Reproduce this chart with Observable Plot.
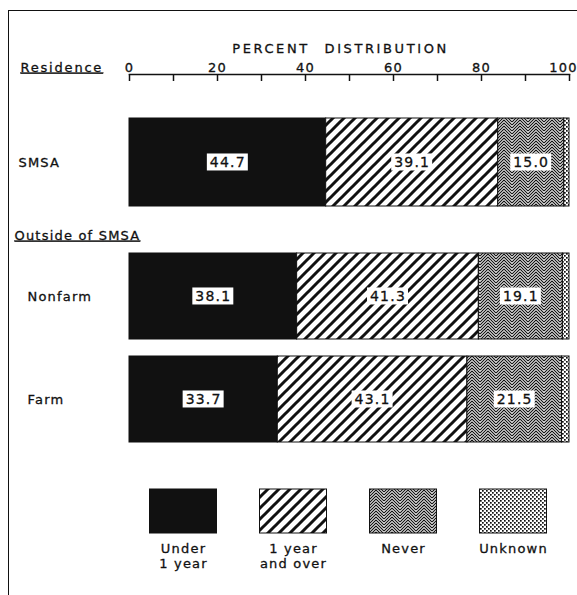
<!DOCTYPE html>
<html>
<head>
<meta charset="utf-8">
<script src="https://cdn.jsdelivr.net/npm/d3@7"></script>
<script src="https://cdn.jsdelivr.net/npm/@observablehq/plot@0.6"></script>
<style>
  body { margin: 0; background: #fff; }
  #wrap { position: relative; width: 577px; height: 595px; overflow: hidden; background: #fff; font-family: "DejaVu Sans", sans-serif; }
  .p { position: absolute; left: 0; }
  #border { position: absolute; left: 8px; top: 10px; width: 620px; height: 620px; border-left: 1.5px solid #111; border-top: 1.5px solid #111; }
  svg text { letter-spacing: 1.2px; stroke: #111; stroke-width: 0.3px; }
</style>
</head>
<body>
<svg width="0" height="0" style="position:absolute">
  <defs>
    <pattern id="p-diag" width="11" height="11" patternUnits="userSpaceOnUse">
      <rect width="11" height="11" fill="#fff"/>
      <path d="M-3,3 L3,-3 M0,11 L11,0 M8,14 L14,8" stroke="#111" stroke-width="3"/>
    </pattern>
    <pattern id="p-wave" width="16" height="3" patternUnits="userSpaceOnUse">
      <rect width="16" height="3" fill="#fff"/>
      <path d="M0,-4 L8,-12 L16,-4 M0,-1 L8,-9 L16,-1 M0,2 L8,-6 L16,2 M0,5 L8,-3 L16,5 M0,8 L8,0 L16,8 M0,11 L8,3 L16,11 M0,14 L8,6 L16,14" stroke="#111" stroke-width="1.15" fill="none"/>
    </pattern>
    <pattern id="p-dots" width="4" height="4" patternUnits="userSpaceOnUse">
      <rect width="4" height="4" fill="#fff"/>
      <rect x="0" y="0" width="1.7" height="1.7" fill="#111"/>
      <rect x="2" y="2" width="1.7" height="1.7" fill="#111"/>
    </pattern>
  </defs>
</svg>
<div id="wrap">
  <div class="p" id="p1" style="top:0px"></div>
  <div class="p" id="p2" style="top:215px"></div>
  <div class="p" id="p3" style="top:460px"></div>
  <div id="border"></div>
</div>
<script>
// ---- data ----
const residences = ["SMSA", "Nonfarm", "Farm"];
const categories = ["Under 1 year", "1 year and over", "Never", "Unknown"];
const legendLabels = ["Under\n1 year", "1 year\nand over", "Never", "Unknown"];
const underOneYear = [44.7, 38.1, 33.7];
const oneYearAndOver = [39.1, 41.3, 43.1];
const never = [15.0, 19.1, 21.5];
const unknown = [1.2, 1.5, 1.7];
const xTicks = [0, 10, 20, 30, 40, 50, 60, 70, 80, 90, 100];
const xTickLabels = [0, 20, 40, 60, 80, 100];
const axisTitle = "PERCENT DISTRIBUTION";
const rowHeader = "Residence";
const groupHeader = "Outside of SMSA";

const fills = ["#111", "url(#p-diag)", "url(#p-wave)", "url(#p-dots)"];
const series = [underOneYear, oneYearAndOver, never, unknown];
const rows = residences.flatMap((r, i) =>
  categories.map((c, j) => ({residence: r, category: c, value: series[j][i]})));

const FONT = "'DejaVu Sans', sans-serif";
const baseStyle = {fontFamily: FONT, fontSize: "13px", color: "#111", background: "transparent", overflow: "visible"};
const color = {domain: categories, range: fills};

function barMarks(data) {
  return [
    Plot.barX(data, Plot.stackX({x: "value", y: "residence", fill: "category", stroke: "#111", strokeWidth: 1})),
    Plot.text(data, Plot.stackX({
      x: "value", y: "residence",
      text: d => d.category === "Unknown" ? null : d.value.toFixed(1),
      fontSize: 14, fill: "#111"
    }))
  ];
}

const lastTick = xTickLabels[xTickLabels.length - 1];

const p1 = Plot.plot({
  width: 577, height: 215,
  marginLeft: 129, marginRight: 8, marginTop: 74, marginBottom: 9,
  x: {domain: [0, 100], axis: null},
  y: {domain: residences.slice(0, 1), range: [118, 206], padding: 0, axis: null},
  color,
  style: baseStyle,
  marks: [
    Plot.frame({anchor: "top", stroke: "#111", strokeWidth: 1.5}),
    Plot.ruleX(xTicks, {x: d => d, insetBottom: 125, stroke: "#111", strokeWidth: 1.5}),
    Plot.axisX({ticks: xTickLabels.slice(0, -1), anchor: "top", tickSize: 0, tickPadding: 3, label: null, fontSize: 13, fill: "#111"}),
    Plot.axisX({ticks: [lastTick], anchor: "top", tickSize: 0, tickPadding: 3, label: null, fontSize: 13, fill: "#111", dx: -6}),
    Plot.text([axisTitle], {text: d => d, frameAnchor: "top", dx: -9, dy: -31, fontSize: 13, fill: "#111"}),
    Plot.text([rowHeader], {text: d => d, frameAnchor: "top-left", dx: -109, dy: -3, textAnchor: "start", lineAnchor: "bottom", fontSize: 13, fill: "#111"}),
    Plot.text(residences.slice(0, 1), {y: d => d, text: d => d, frameAnchor: "left", dx: -111, textAnchor: "start", fontSize: 13, fill: "#111"}),
    ...barMarks(rows.filter(d => d.residence === "SMSA"))
  ]
});

const p2 = Plot.plot({
  width: 577, height: 245,
  marginLeft: 129, marginRight: 8, marginTop: 29, marginBottom: 9,
  x: {domain: [0, 100], axis: null},
  y: {domain: residences.slice(1), range: [29.5, 235.5], paddingInner: 0.165, paddingOuter: 0.0825, axis: null},
  color,
  style: baseStyle,
  marks: [
    Plot.text([groupHeader], {text: d => d, frameAnchor: "top-left", dx: -115, dy: -5, textAnchor: "start", lineAnchor: "bottom", fontSize: 13, fill: "#111"}),
    Plot.text(residences.slice(1), {y: d => d, text: d => d, frameAnchor: "left", dx: -102, textAnchor: "start", fontSize: 13, fill: "#111"}),
    ...barMarks(rows.filter(d => d.residence !== "SMSA"))
  ]
});

const p3 = Plot.plot({
  width: 577, height: 135,
  marginLeft: 128, marginRight: 9, marginTop: 29, marginBottom: 62,
  x: {domain: categories, padding: 0, axis: null},
  color,
  style: baseStyle,
  marks: [
    Plot.cell(categories, {x: d => d, fill: d => d, stroke: "#111", strokeWidth: 1, insetLeft: 21.5, insetRight: 21.5}),
    Plot.text(categories, {x: d => d, text: (d, i) => legendLabels[i], frameAnchor: "bottom", lineAnchor: "top", dy: 9, lineHeight: 1.15, fontSize: 13, fill: "#111"})
  ]
});

document.getElementById("p1").appendChild(p1);
document.getElementById("p2").appendChild(p2);
document.getElementById("p3").appendChild(p3);

const allTexts = Array.from(document.querySelectorAll("#wrap svg text"));
allTexts.forEach(t => {
  if (t.textContent === rowHeader || t.textContent === groupHeader) t.style.textDecoration = "underline";
  if (t.textContent === rowHeader) t.style.letterSpacing = "1.8px";
  if (t.textContent === axisTitle) { t.style.letterSpacing = "2.6px"; t.style.wordSpacing = "8px"; }
});
// white label boxes behind value labels
const NS = "http://www.w3.org/2000/svg";
allTexts.filter(t => /^\d+\.\d$/.test(t.textContent)).forEach(t => {
  const b = t.getBBox();
  const r = document.createElementNS(NS, "rect");
  r.setAttribute("x", b.x - 3);
  r.setAttribute("y", b.y - 0.5);
  r.setAttribute("width", b.width + 5);
  r.setAttribute("height", b.height + 1);
  r.setAttribute("fill", "#fff");
  r.setAttribute("stroke", "none");
  const tr = t.getAttribute("transform");
  if (tr) r.setAttribute("transform", tr);
  t.parentNode.insertBefore(r, t);
});
</script>
</body>
</html>
